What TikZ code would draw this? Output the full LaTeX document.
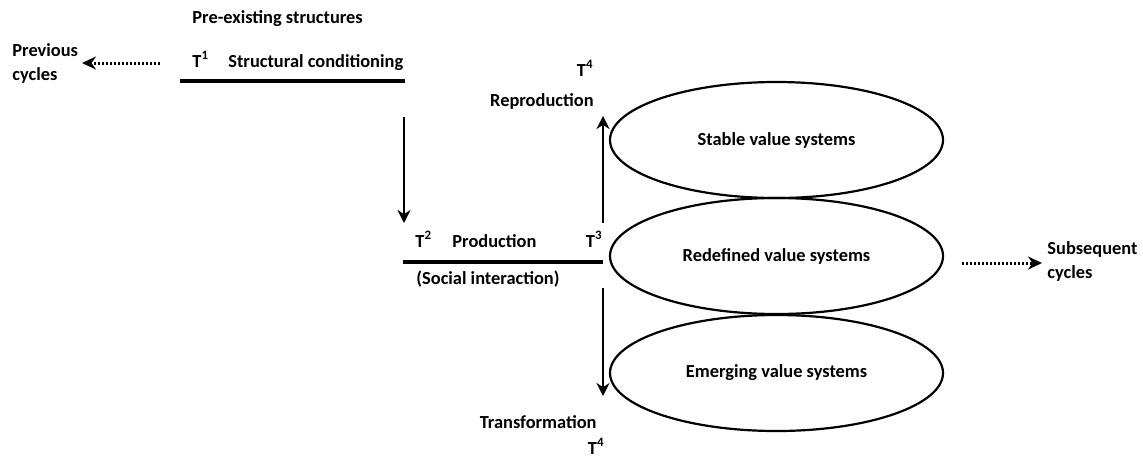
\documentclass[tikz,border=0pt]{standalone}
\usepackage{fontspec}
\setmainfont{Carlito}
\usetikzlibrary{arrows.meta,shapes.geometric}

\begin{document}
\begin{tikzpicture}[x=0.5pt,y=-0.5pt,
  lbl/.style={font=\bfseries\fontsize{9.2}{12}\selectfont, inner sep=0pt, text height=6.3pt, text depth=1.9pt},
  two/.style={font=\bfseries\fontsize{9.2}{12}\selectfont, inner sep=0pt, align=left},
  vs/.style={draw, ellipse, line width=1.1pt, minimum width=166.5pt, minimum height=58pt, inner sep=0pt, font=\bfseries\fontsize{9.2}{12}\selectfont},
  bar/.style={line width=1.6pt},
  arr/.style={line width=1.4pt, -{Stealth[length=6.5pt,width=6.5pt]}},
  dots/.style={line width=1.5pt, dash pattern=on 1.1pt off 0.9pt, -{Stealth[length=7pt,width=6.5pt]}}]
  \useasboundingbox (0,0) rectangle (1143,456);
  % top: structural conditioning
  \node[lbl, anchor=west] (pre) at (192,19) {Pre-existing structures};
  \node[lbl, anchor=west] (t1) at (192,63) {T\textsuperscript{1}};
  \node[lbl, anchor=west] (sc) at (228,63) {Structural conditioning};
  \node[two, anchor=north west] (prev) at (12,43) {Previous\\cycles};
  \coordinate (l1a) at (180,81); \coordinate (l1b) at (405,81);
  \draw[bar] (l1a) -- (l1b);
  \coordinate (pv) at (160,63); \coordinate (pvtip) at (82,63);
  \draw[dots] (pv) -- (pvtip);
  % production
  \coordinate (d1) at (404,117); \coordinate (d2) at (404,223);
  \draw[arr] (d1) -- (d2);
  \node[lbl, anchor=west] (t2) at (415,243) {T\textsuperscript{2}};
  \node[lbl, anchor=west] (prod) at (452,243) {Production};
  \node[lbl, anchor=east] (t3) at (603,243) {T\textsuperscript{3}};
  \coordinate (l2a) at (403,262); \coordinate (l2b) at (603,262);
  \draw[bar] (l2a) -- (l2b);
  \node[lbl, anchor=west] (soc) at (416,280) {(Social interaction)};
  % value systems
  \node[vs] (stable) at (776.5,140) {Stable value systems};
  \node[vs] (redef) at (776.5,256) {Redefined value systems};
  \node[vs] (emerg) at (776.5,373) {Emerging value systems};
  % reproduction / transformation
  \coordinate (u1) at (603,223); \coordinate (u2) at (603,116);
  \draw[arr] (u1) -- (u2);
  \node[lbl, anchor=east] (t4a) at (594,72) {T\textsuperscript{4}};
  \node[lbl, anchor=east] (rep) at (594,102) {Reproduction};
  \coordinate (w1) at (603,288); \coordinate (w2) at (603,396);
  \draw[arr] (w1) -- (w2);
  \node[lbl, anchor=east] (trans) at (597,424) {Transformation};
  \node[lbl, anchor=east] (t4b) at (605,450) {T\textsuperscript{4}};
  % subsequent
  \coordinate (sb) at (962,263); \coordinate (sbtip) at (1042,263);
  \draw[dots] (sb) -- (sbtip);
  \node[two, anchor=north west] (next) at (1047,241) {Subsequent\\cycles};
\end{tikzpicture}
\end{document}
